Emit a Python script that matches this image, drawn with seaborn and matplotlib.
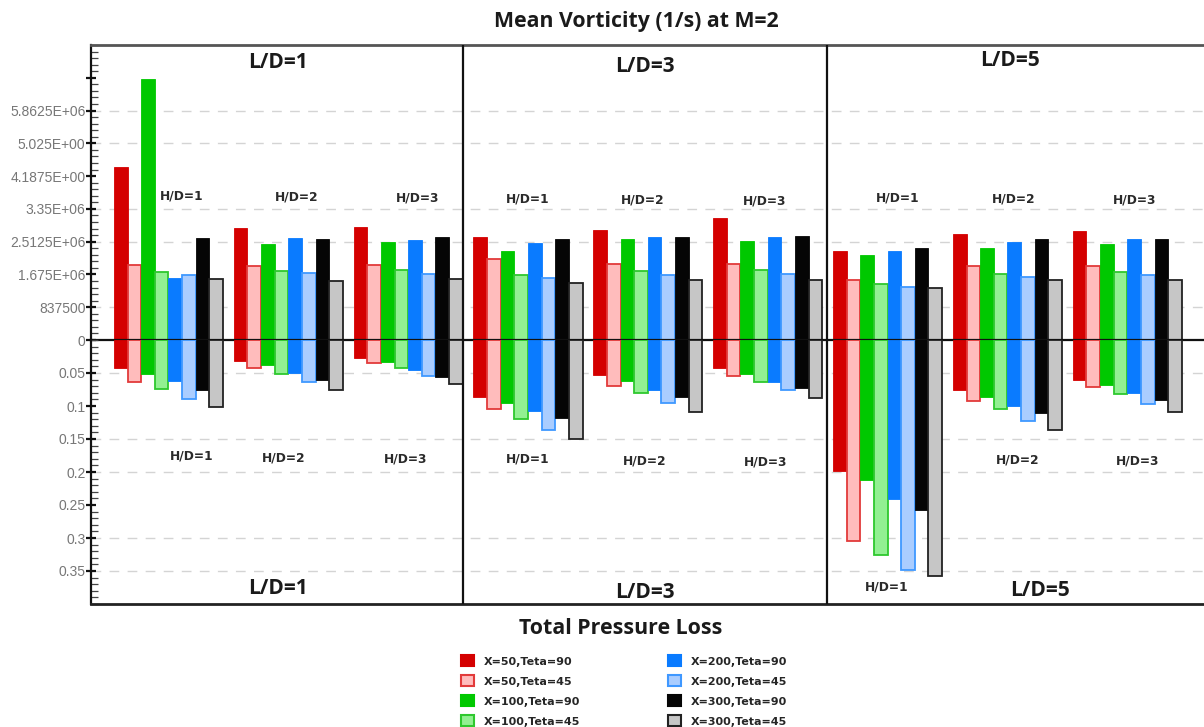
import numpy as np
import pandas as pd
import matplotlib
matplotlib.use("Agg")
import matplotlib.pyplot as plt
from matplotlib.patches import Patch
from matplotlib.ticker import FixedLocator, FixedFormatter, MultipleLocator
import seaborn as sns

# ---------------------------------------------------------------- data
ld_labels = ["L/D=1", "L/D=3", "L/D=5"]
hd_labels = ["H/D=1", "H/D=2", "H/D=3"]
series = ["X=50,Teta=90", "X=50,Teta=45", "X=100,Teta=90", "X=100,Teta=45",
          "X=200,Teta=90", "X=200,Teta=45", "X=300,Teta=90", "X=300,Teta=45"]

# mean vorticity (1/s); order: L/D=1 (H/D=1..3), L/D=3 (H/D=1..3), L/D=5 (H/D=1..3)
vort_x50_t90 = [4.41e6, 2.85e6, 2.89e6, 2.635e6, 2.80e6, 3.12e6, 2.285e6, 2.72e6, 2.78e6]
vort_x50_t45 = [1.915e6, 1.90e6, 1.915e6, 2.07e6, 1.93e6, 1.93e6, 1.545e6, 1.885e6, 1.90e6]
vort_x100_t90 = [6.66e6, 2.46e6, 2.51e6, 2.285e6, 2.57e6, 2.52e6, 2.18e6, 2.34e6, 2.46e6]
vort_x100_t45 = [1.73e6, 1.77e6, 1.79e6, 1.65e6, 1.76e6, 1.78e6, 1.435e6, 1.69e6, 1.73e6]
vort_x200_t90 = [1.59e6, 2.60e6, 2.55e6, 2.48e6, 2.62e6, 2.62e6, 2.285e6, 2.51e6, 2.58e6]
vort_x200_t45 = [1.66e6, 1.70e6, 1.68e6, 1.59e6, 1.67e6, 1.69e6, 1.35e6, 1.61e6, 1.65e6]
vort_x300_t90 = [2.61e6, 2.58e6, 2.64e6, 2.57e6, 2.635e6, 2.67e6, 2.34e6, 2.59e6, 2.58e6]
vort_x300_t45 = [1.55e6, 1.52e6, 1.55e6, 1.46e6, 1.53e6, 1.545e6, 1.33e6, 1.545e6, 1.545e6]

# total pressure loss, same ordering
loss_x50_t90 = [0.043, 0.032, 0.027, 0.086, 0.053, 0.043, 0.199, 0.076, 0.060]
loss_x50_t45 = [0.063, 0.043, 0.035, 0.104, 0.070, 0.054, 0.305, 0.093, 0.071]
loss_x100_t90 = [0.052, 0.038, 0.034, 0.095, 0.062, 0.051, 0.212, 0.087, 0.068]
loss_x100_t45 = [0.074, 0.051, 0.043, 0.119, 0.081, 0.063, 0.326, 0.105, 0.082]
loss_x200_t90 = [0.062, 0.050, 0.046, 0.107, 0.076, 0.063, 0.241, 0.100, 0.081]
loss_x200_t45 = [0.089, 0.064, 0.055, 0.137, 0.096, 0.076, 0.348, 0.123, 0.097]
loss_x300_t90 = [0.075, 0.061, 0.056, 0.118, 0.086, 0.073, 0.257, 0.111, 0.091]
loss_x300_t45 = [0.101, 0.075, 0.066, 0.150, 0.109, 0.088, 0.358, 0.136, 0.109]

vort_ticks = [0, 837500, 1675000, 2512500, 3350000, 4187500, 5025000, 5862500, 6700000]
vort_tick_labels = ["0", "837500", "1.675E+06", "2.5125E+06", "3.35E+06",
                    "4.1875E+00", "5.025E+00", "5.8625E+06", ""]
loss_ticks = [0.05, 0.1, 0.15, 0.2, 0.25, 0.3, 0.35]
loss_tick_labels = ["0.05", "0.1", "0.15", "0.2", "0.25", "0.3", "0.35"]

vort_all = [vort_x50_t90, vort_x50_t45, vort_x100_t90, vort_x100_t45,
            vort_x200_t90, vort_x200_t45, vort_x300_t90, vort_x300_t45]
loss_all = [loss_x50_t90, loss_x50_t45, loss_x100_t90, loss_x100_t45,
            loss_x200_t90, loss_x200_t45, loss_x300_t90, loss_x300_t45]

cases = [f"{ld} {hd}" for ld in ld_labels for hd in hd_labels]
rows = []
for s, v, l in zip(series, vort_all, loss_all):
    for c, vv, ll in zip(cases, v, l):
        rows.append({"case": c, "series": s, "vorticity": vv, "loss": ll})
df = pd.DataFrame(rows)

# ---------------------------------------------------------------- style
fill_colors = ["#d40000", "#ffbcbc", "#00c800", "#92f092",
               "#0a7bff", "#aacdff", "#050505", "#c6c6c6"]
edge_colors = ["#d40000", "#e23a3a", "#00c800", "#2ec82e",
               "#0a7bff", "#3f98ff", "#050505", "#222222"]
edge_widths = [0.6, 1.3, 0.6, 1.3, 0.6, 1.3, 0.6, 1.3]

sns.set_theme(style="white")
plt.rcParams["font.family"] = ["DejaVu Sans"]

W, H = 1204, 727
fig = plt.figure(figsize=(W / 100, H / 100), dpi=100)


def fx(px):
    return px / W


def fy(py):
    return 1 - py / H


left_px, right_px = 91, 1210
zero_px, top_px, bottom_px = 340, 45, 604
ax_top = fig.add_axes([fx(left_px), fy(zero_px), (right_px - left_px) / W, (zero_px - top_px) / H])
ax_bot = fig.add_axes([fx(left_px), fy(bottom_px), (right_px - left_px) / W, (bottom_px - zero_px) / H])

palette = dict(zip(series, fill_colors))
for ax, col in ((ax_top, "vorticity"), (ax_bot, "loss")):
    sns.barplot(data=df, x="case", y=col, hue="series", hue_order=series,
                order=cases, palette=palette, saturation=1, width=0.91,
                errorbar=None, legend=False, ax=ax, zorder=2)
    for i, cont in enumerate(ax.containers):
        for p in cont.patches:
            p.set_edgecolor(edge_colors[i])
            p.set_linewidth(edge_widths[i])

xlim = (-0.646, 8.69)
dividers = [2.459, 5.497]
grid_units = [1, 3, 4, 6, 7]
grid_style = dict(color="#d4d4d4", lw=1.0, ls=(0, (7, 6)), zorder=0)

# upper half: vorticity
ax_top.set_xlim(*xlim)
ax_top.set_ylim(0, 9 * 837500)
ax_top.yaxis.set_major_locator(FixedLocator(vort_ticks))
ax_top.yaxis.set_major_formatter(FixedFormatter(vort_tick_labels))
ax_top.yaxis.set_minor_locator(MultipleLocator(837500 / 5))
for u in grid_units:
    ax_top.axhline(u * 837500, **grid_style)

# lower half: total pressure loss (downwards)
ax_bot.set_xlim(*xlim)
ax_bot.set_ylim(0.4, 0)
ax_bot.yaxis.set_major_locator(FixedLocator(loss_ticks))
ax_bot.yaxis.set_major_formatter(FixedFormatter(loss_tick_labels))
ax_bot.yaxis.set_minor_locator(MultipleLocator(0.01))
for u in grid_units:
    ax_bot.axhline(u * 0.05, **grid_style)

for ax in (ax_top, ax_bot):
    ax.set_xlabel("")
    ax.set_ylabel("")
    ax.set_xticks([])
    ax.set_facecolor("none")
    ax.tick_params(axis="y", which="major", direction="inout", length=7, width=1.6,
                   color="#111111", labelsize=10, labelcolor="#777777", pad=0.5, left=True)
    ax.tick_params(axis="y", which="minor", direction="in", length=5, width=0.9,
                   color="#444444", left=True)
    for lab in ax.get_yticklabels():
        lab.set_family("Liberation Sans")
    for x in dividers:
        ax.axvline(x, color="#111111", lw=1.6, zorder=3)
    ax.spines["right"].set_visible(False)
    ax.spines["left"].set_color("#111111")
    ax.spines["left"].set_linewidth(1.6)

ax_top.spines["top"].set_color("#555555")
ax_top.spines["top"].set_linewidth(2.0)
ax_top.spines["bottom"].set_color("#111111")
ax_top.spines["bottom"].set_linewidth(1.6)
ax_top.spines["bottom"].set_zorder(4)
ax_bot.spines["top"].set_visible(False)
ax_bot.spines["bottom"].set_color("#222222")
ax_bot.spines["bottom"].set_linewidth(2.0)

# ---------------------------------------------------------------- text
bold_title = dict(fontweight="bold", family=["Open Sans", "DejaVu Sans"], color="#1a1a1a",
                  ha="center", va="center")
fig.text(fx(636), fy(22), "Mean Vorticity (1/s) at M=2", fontsize=15.3, **bold_title)
fig.text(fx(621), fy(628), "Total Pressure Loss", fontsize=15.4, **bold_title)

ld_top_pos = [(278, 62), (645, 67), (1010, 60)]
ld_bot_pos = [(278, 589), (645, 592), (1040, 590)]
for lab, (px, py) in zip(ld_labels, ld_top_pos):
    fig.text(fx(px), fy(py), lab, fontsize=15, **bold_title)
for lab, (px, py) in zip(ld_labels, ld_bot_pos):
    fig.text(fx(px), fy(py), lab, fontsize=15, **bold_title)

hd_top_pos = [(182, 196), (297, 197), (418, 198), (528, 199), (643, 200), (765, 201),
              (898, 198), (1014, 199), (1135, 200)]
hd_bot_pos = [(192, 456), (284, 458), (406, 459), (528, 459), (645, 461), (766, 462),
              (887, 587), (1018, 460), (1138, 461)]
small_bold = dict(fontsize=8.8, fontweight="bold", family="DejaVu Sans", color="#2a2a2a",
                  ha="center", va="center")
for i, (px, py) in enumerate(hd_top_pos):
    fig.text(fx(px), fy(py), hd_labels[i % 3], **small_bold)
for i, (px, py) in enumerate(hd_bot_pos):
    fig.text(fx(px), fy(py), hd_labels[i % 3], **small_bold)

# ---------------------------------------------------------------- legend
handles = [Patch(facecolor=fc, edgecolor=ec, linewidth=1.5)
           for fc, ec in zip(fill_colors, edge_colors)]
fig.legend(handles, series, ncol=2, loc="upper left",
           bbox_to_anchor=(fx(457), fy(651)), frameon=False,
           prop={"family": "DejaVu Sans", "weight": "bold", "size": 8},
           handlelength=1.15, handleheight=1.15, handletextpad=0.9,
           columnspacing=7.9, labelspacing=0.78, borderaxespad=0)

fig.savefig("out.png", dpi=100, facecolor="white")
